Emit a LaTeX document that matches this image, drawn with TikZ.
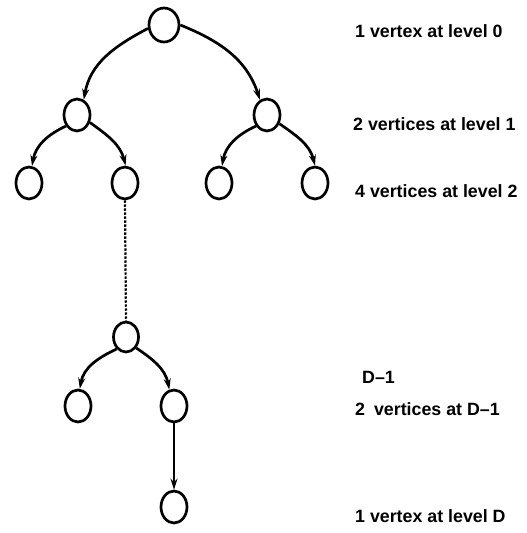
\documentclass[tikz,border=0pt]{standalone}
\usepackage{fontspec}
\setmainfont{Liberation Sans}
\usetikzlibrary{shapes.geometric,arrows.meta}
\begin{document}
\begin{tikzpicture}[x=1pt,y=-1pt,
  vert/.style={draw,ellipse,line width=2.7pt,inner sep=0pt,minimum width=26pt,minimum height=32pt},
  rootv/.style={vert,minimum width=30pt,minimum height=34pt},
  smallv/.style={vert,minimum width=25pt,minimum height=30pt},
  edge/.style={line width=2.7pt,-{Stealth[length=11pt,width=7pt]}},
  dots/.style={line width=2.2pt,dash pattern=on 2.4pt off 1.6pt},
  lab/.style={anchor=base west,inner sep=0pt,font=\fontsize{17.8}{20}\selectfont\bfseries}]
\useasboundingbox (0,0) rectangle (527,533);
% vertices
\node[rootv] (r) at (164,25) {};
\node[vert] (a) at (77,115) {};
\node[vert] (b) at (267,115) {};
\node[vert] (aa) at (29,183) {};
\node[vert] (ab) at (125,183) {};
\node[vert] (ba) at (219,183) {};
\node[vert] (bb) at (315,183) {};
\node[smallv] (p) at (126,337) {};
\node[vert] (pa) at (78,406) {};
\node[vert] (pb) at (174,406) {};
\node[vert] (d) at (174,507) {};
% edges
\draw[edge] (r.192) to[out=208,in=80] (a.66);
\draw[edge] (r.0) to[out=-22,in=108] (b.115);
\draw[edge] (a.225) to[out=205,in=80] (aa.80);
\draw[edge] (a.330) to[out=-36,in=104] (ab.88);
\draw[edge] (b.225) to[out=205,in=80] (ba.80);
\draw[edge] (b.325) to[out=-35,in=104] (bb.90);
\draw[dots] (ab.south) -- (p.north);
\draw[edge] (p.232) to[out=205,in=80] (pa.84);
\draw[edge] (p.313) to[out=-34,in=101] (pb.106);
\draw[edge] (pb.south) -- (d.north);
% labels
\node[lab] (t0) at (355,37) {1 vertex at level 0};
\node[lab] (t1) at (353,130) {2 vertices at level 1};
\node[lab] (t2) at (355,197) {4 vertices at level 2};
\node[lab] (t3) at (362,383) {D–1};
\node[lab] (t4) at (355,415) {2\hspace{9pt}vertices at D–1};
\node[lab] (t5) at (355,522) {1 vertex at level D};
\end{tikzpicture}
\end{document}
